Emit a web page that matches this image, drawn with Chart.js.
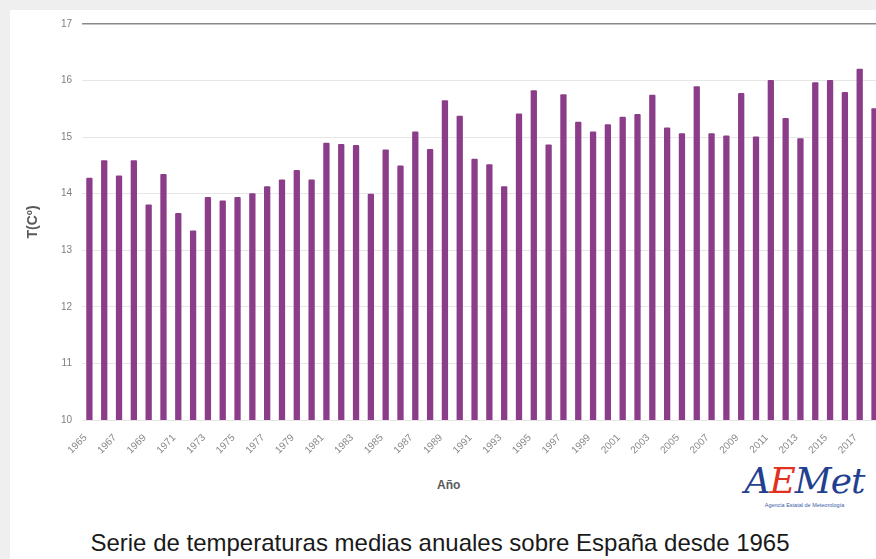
<!DOCTYPE html>
<html lang="es">
<head>
<meta charset="utf-8">
<title>Serie de temperaturas medias anuales sobre España desde 1965</title>
<script src="https://cdn.jsdelivr.net/npm/chart.js@4.4.1/dist/chart.umd.min.js"></script>
<style>
    html, body {
        margin: 0;
        padding: 0;
        width: 876px;
        height: 559px;
        overflow: hidden;
        background: #efefef;
        font-family: "Liberation Sans", Arial, sans-serif;
    }
    #card {
        position: absolute;
        left: 10px;
        top: 10px;
        width: 900px;
        height: 600px;
        background: #ffffff;
    }
    #chartBox {
        position: absolute;
        left: 0;
        top: 0;
        width: 887px;
        height: 460px;
    }
    #xTitle {
        position: absolute;
        left: 437px;
        top: 478px;
        font-size: 12px;
        font-weight: bold;
        color: #595959;
    }
    #logo {
        position: absolute;
        left: 742px;
        top: 462px;
        width: 125px;
        text-align: center;
    }
    #logo .big {
        font-size: 36px;
        font-style: italic;
        font-family: "DejaVu Serif", serif;
        letter-spacing: -1px;
        line-height: 38px;
    }
    #logo .small {
        font-size: 5.5px;
        color: #3b5aa8;
        margin-top: 2px;
    }
    #caption {
        position: absolute;
        left: 0;
        top: 529px;
        width: 880px;
        text-align: center;
        font-size: 24px;
        color: #1a1a1a;
    }
</style>
</head>
<body>
<div id="card"></div>
<div id="chartBox"><canvas id="tempChart"></canvas></div>
<div id="xTitle">Año</div>
<div id="logo">
    <div class="big"><span style="color:#233f8f">A</span><span style="color:#e2321f">E</span><span style="color:#233f8f">Met</span></div>
    <div class="small">Agencia Estatal de Meteorología</div>
</div>
<div id="caption">Serie de temperaturas medias anuales sobre España desde 1965</div>

<script>
const years = [
    1965, 1966, 1967, 1968, 1969, 1970, 1971, 1972, 1973, 1974,
    1975, 1976, 1977, 1978, 1979, 1980, 1981, 1982, 1983, 1984,
    1985, 1986, 1987, 1988, 1989, 1990, 1991, 1992, 1993, 1994,
    1995, 1996, 1997, 1998, 1999, 2000, 2001, 2002, 2003, 2004,
    2005, 2006, 2007, 2008, 2009, 2010, 2011, 2012, 2013, 2014,
    2015, 2016, 2017, 2018
];

const meanTemps = [
    14.28, 14.59, 14.32, 14.59, 13.81, 14.35, 13.66, 13.35, 13.94, 13.88,
    13.94, 14.01, 14.13, 14.25, 14.42, 14.25, 14.90, 14.88, 14.86, 14.00,
    14.78, 14.50, 15.10, 14.79, 15.65, 15.38, 14.62, 14.52, 14.13, 15.42,
    15.83, 14.87, 15.76, 15.27, 15.10, 15.23, 15.36, 15.41, 15.75, 15.17,
    15.07, 15.90, 15.07, 15.03, 15.78, 15.01, 16.01, 15.34, 14.98, 15.97,
    16.01, 15.80, 16.21, 15.51
];

const yMin = 10;
const yMax = 17;

document.addEventListener("DOMContentLoaded", function () {
    let ctx = document.getElementById('tempChart').getContext('2d');
    let tempChart = new Chart(ctx, {
        type: 'bar',
        data: {
            labels: years,
            datasets: [{
                label: 'T(Cº)',
                data: meanTemps,
                backgroundColor: '#8b3d89',
                borderWidth: 0,
                borderRadius: 1,
                barPercentage: 0.85,
                categoryPercentage: 0.5
            }]
        },
        options: {
            responsive: true,
            maintainAspectRatio: false,
            animation: false,
            layout: {
                padding: { left: 20, top: 24, right: 0, bottom: 0 }
            },
            plugins: {
                legend: { display: false },
                tooltip: { enabled: false }
            },
            scales: {
                x: {
                    grid: { display: false },
                    border: { display: false },
                    ticks: {
                        autoSkip: false,
                        maxRotation: 45,
                        minRotation: 45,
                        padding: 4,
                        labelOffset: -4,
                        color: '#888888',
                        font: { family: 'Liberation Sans', size: 10 },
                        callback: function (value, index) {
                            return index % 2 === 0 ? years[index] : '';
                        }
                    },
                    afterFit: function (scale) {
                        scale.height = 40;
                    }
                },
                y: {
                    min: yMin,
                    max: yMax,
                    border: { display: false },
                    grid: {
                        drawTicks: false,
                        color: function (c) {
                            return c.tick && c.tick.value === yMax ? '#8a8a8a' : '#e6e6e6';
                        },
                        lineWidth: function (c) {
                            return c.tick && c.tick.value === yMax ? 1.5 : 1;
                        }
                    },
                    ticks: {
                        stepSize: 1,
                        padding: 10,
                        color: '#7f7f7f',
                        font: { family: 'Liberation Sans', size: 10 }
                    },
                    title: {
                        display: true,
                        text: 'T(Cº)',
                        color: '#595959',
                        padding: { top: 5, bottom: 0 },
                        font: { family: 'Liberation Sans', size: 14, weight: 'bold' }
                    },
                    afterFit: function (scale) {
                        scale.width = 62;
                    }
                }
            }
        }
    });
});
</script>
</body>
</html>
